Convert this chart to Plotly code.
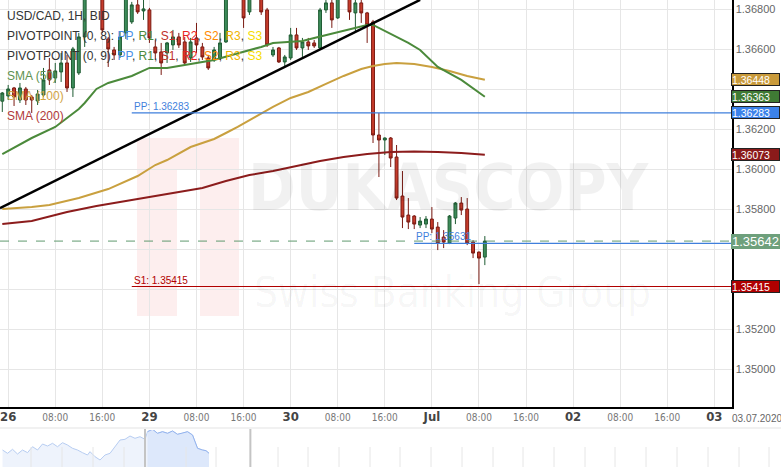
import plotly.graph_objects as go

W, H = 781, 467

# ---------------- data ----------------
# trading hours relative to Mon 29 Jun 2020 00:00 (weekend gap removed)
hours = list(range(-25, 58))
opens = [1.36341, 1.36367, 1.36407, 1.36347, 1.36402, 1.36362, 1.36342, 1.36372, 1.36497, 1.36457,
         1.36487, 1.36532, 1.36407, 1.36482, 1.36662, 1.36870, 1.36900, 1.36880, 1.36652, 1.36597,
         1.36572, 1.36682, 1.36737, 1.36822, 1.36792, 1.36797, 1.36612, 1.36587, 1.36582, 1.36622,
         1.36662, 1.36637, 1.36557, 1.36657, 1.36612, 1.36557, 1.36547, 1.36557, 1.36637, 1.36860,
         1.36890, 1.36870, 1.36787, 1.36860, 1.36870, 1.36797, 1.36572, 1.36607, 1.36537, 1.36557,
         1.36672, 1.36607, 1.36637, 1.36632, 1.36607, 1.36797, 1.36832, 1.36757, 1.36880, 1.36860,
         1.36782, 1.36832, 1.36782, 1.36737, 1.36172, 1.36147, 1.36157, 1.36062, 1.35867, 1.35772,
         1.35767, 1.35722, 1.35727, 1.35752, 1.35712, 1.35662, 1.35632, 1.35757, 1.35832, 1.35802,
         1.35637, 1.35587, 1.35562]
highs = [1.36387, 1.36422, 1.36412, 1.36432, 1.36412, 1.36372, 1.36397, 1.36507, 1.36557, 1.36532,
         1.36582, 1.36572, 1.36612, 1.36682, 1.36890, 1.36930, 1.36940, 1.36900, 1.36662, 1.36612,
         1.36687, 1.36880, 1.36837, 1.36847, 1.36850, 1.36807, 1.36647, 1.36632, 1.36637, 1.36697,
         1.36682, 1.36662, 1.36657, 1.36732, 1.36632, 1.36572, 1.36612, 1.36682, 1.36880, 1.36910,
         1.36920, 1.36890, 1.36880, 1.36900, 1.36890, 1.36807, 1.36612, 1.36612, 1.36572, 1.36707,
         1.36707, 1.36657, 1.36657, 1.36647, 1.36807, 1.36850, 1.36855, 1.36880, 1.36900, 1.36880,
         1.36860, 1.36855, 1.36787, 1.36747, 1.36282, 1.36160, 1.36162, 1.36122, 1.35992, 1.35857,
         1.35772, 1.35762, 1.35767, 1.35812, 1.35737, 1.35697, 1.35772, 1.35837, 1.35862, 1.35857,
         1.35647, 1.35590, 1.35667]
lows = [1.36287, 1.36347, 1.36317, 1.36332, 1.36322, 1.36282, 1.36322, 1.36362, 1.36422, 1.36432,
        1.36437, 1.36387, 1.36362, 1.36472, 1.36612, 1.36855, 1.36860, 1.36682, 1.36512, 1.36547,
        1.36557, 1.36652, 1.36727, 1.36777, 1.36747, 1.36632, 1.36547, 1.36472, 1.36532, 1.36597,
        1.36607, 1.36522, 1.36537, 1.36582, 1.36547, 1.36497, 1.36537, 1.36547, 1.36632, 1.36850,
        1.36855, 1.36707, 1.36772, 1.36850, 1.36772, 1.36612, 1.36562, 1.36532, 1.36512, 1.36547,
        1.36597, 1.36562, 1.36597, 1.36607, 1.36597, 1.36782, 1.36707, 1.36752, 1.36850, 1.36747,
        1.36687, 1.36732, 1.36632, 1.36132, 1.35962, 1.36072, 1.36012, 1.35847, 1.35707, 1.35702,
        1.35702, 1.35707, 1.35707, 1.35682, 1.35597, 1.35607, 1.35627, 1.35727, 1.35772, 1.35622,
        1.35557, 1.35427, 1.35522]
closes = [1.36382, 1.36402, 1.36362, 1.36407, 1.36347, 1.36347, 1.36377, 1.36447, 1.36447, 1.36492,
          1.36532, 1.36407, 1.36602, 1.36662, 1.36870, 1.36900, 1.36880, 1.36697, 1.36602, 1.36572,
          1.36662, 1.36860, 1.36822, 1.36787, 1.36802, 1.36657, 1.36582, 1.36532, 1.36632, 1.36662,
          1.36622, 1.36532, 1.36637, 1.36622, 1.36562, 1.36507, 1.36597, 1.36632, 1.36860, 1.36890,
          1.36870, 1.36757, 1.36860, 1.36880, 1.36787, 1.36622, 1.36597, 1.36537, 1.36562, 1.36672,
          1.36607, 1.36637, 1.36617, 1.36617, 1.36797, 1.36832, 1.36747, 1.36860, 1.36860, 1.36787,
          1.36832, 1.36782, 1.36722, 1.36172, 1.36147, 1.36157, 1.36057, 1.35857, 1.35762, 1.35737,
          1.35727, 1.35742, 1.35752, 1.35702, 1.35632, 1.35637, 1.35767, 1.35832, 1.35797, 1.35632,
          1.35582, 1.35557, 1.35642]

sma50_h = [-25, -20, -16, -12, -11, -9, -7, -3, 0, 3, 6, 11, 14, 19, 21, 26, 28, 32, 35, 37, 38, 39, 41, 44, 46, 49, 53, 57]
sma50_v = [1.36077, 1.36157, 1.36212, 1.36302, 1.36332, 1.36402, 1.36432, 1.36467, 1.36507, 1.36507,
           1.36522, 1.36547, 1.36572, 1.36612, 1.36632, 1.36642, 1.36657, 1.36687, 1.36707, 1.36722,
           1.36722, 1.36707, 1.36677, 1.36632, 1.36597, 1.36512, 1.36447, 1.36363]
sma100_h = [-25, -20, -17, -12, -7, -2, 1, 3, 7, 11, 13, 15, 18, 21, 24, 27, 30, 33, 36, 38, 40, 42, 45, 48, 51, 54, 57]
sma100_v = [1.35802, 1.35812, 1.35822, 1.35857, 1.35902, 1.35967, 1.36022, 1.36047, 1.36112, 1.36152,
            1.36182, 1.36212, 1.36262, 1.36312, 1.36357, 1.36387, 1.36427, 1.36467, 1.36502, 1.36517,
            1.36527, 1.36532, 1.36527, 1.36512, 1.36492, 1.36467, 1.36448]
sma200_h = [-25, -20, -14, -9, -5, 0, 4, 9, 13, 17, 21, 25, 29, 33, 37, 41, 45, 49, 53, 57]
sma200_v = [1.35727, 1.35742, 1.35787, 1.35817, 1.35837, 1.35862, 1.35882, 1.35907, 1.35942, 1.35972,
            1.35992, 1.36017, 1.36042, 1.36062, 1.36077, 1.36087, 1.36089, 1.36087, 1.36082, 1.36073]

trend_h = [-25.4, 46.0]
trend_v = [1.35807, 1.36847]

levels_name = ["PP", "S1", "PP"]
levels_value = [1.36283, 1.35415, 1.35631]
levels_start = [-3, -3, 45]
levels_color = ["#3f7fdc", "#b00000", "#3f7fdc"]

last_price = 1.35642

price_ticks = [1.350, 1.352, 1.354, 1.356, 1.358, 1.360, 1.362, 1.364, 1.366, 1.368]
price_labels = ["1.35000", "1.35200", "", "", "1.35800", "1.36000", "1.36200", "", "1.36600", "1.36800"]

tick_hours = [-24, -16, -8, 0, 8, 16, 24, 32, 40, 48, 56, 64, 72, 80, 88, 96]
tick_labels = ["26", "08:00", "16:00", "29", "08:00", "16:00", "30", "08:00", "16:00",
               "Jul", "08:00", "16:00", "02", "08:00", "16:00", "03"]

# navigator (longer history, trading hours)
nav_h = [-193.6, -187.7, -181.8, -175.9, -170.0, -164.1, -158.2, -152.3, -146.4, -140.5, -134.6, -128.7,
         -122.8, -116.9, -111.0, -105.1, -99.2, -93.3, -90.3, -84.4, -78.5, -72.6, -66.7, -60.8, -54.9,
         -49.0, -43.1, -37.2, -31.3, -25.4, -22.4, -16.5, -10.6, -4.7, 1.2, 7.1, 13.0, 18.9, 24.8, 30.7,
         36.6, 42.5, 46.6, 50.2]
nav_v = [1.35760, 1.35579, 1.35798, 1.35541, 1.35760, 1.35614, 1.35940, 1.35760, 1.36088, 1.35979,
         1.36127, 1.35940, 1.36160, 1.36034, 1.35853, 1.35760, 1.35614, 1.35486, 1.35667, 1.35393,
         1.35212, 1.35486, 1.35579, 1.35940, 1.36307, 1.36346, 1.36526, 1.36400, 1.36488, 1.36346,
         1.36762, 1.36893, 1.36674, 1.36762, 1.36674, 1.36800, 1.36619, 1.36674, 1.36762, 1.36581,
         1.35853, 1.35760, 1.35722, 1.35579]

# ---------------- layout helpers ----------------
PLOT_R = 732
PLOT_B = 407
x_range = [-25.39, 99.0]
y_range = [1.34813, 1.368465]


def px(x):
    return x / W


def py(y):
    return 1 - y / H


fig = go.Figure()

# SMA + trend lines
fig.add_trace(go.Scatter(x=sma200_h, y=sma200_v, mode="lines", line=dict(color="#8c1c1c", width=2), hoverinfo="skip"))
fig.add_trace(go.Scatter(x=sma100_h, y=sma100_v, mode="lines", line=dict(color="#c9a03f", width=2), hoverinfo="skip"))
fig.add_trace(go.Scatter(x=sma50_h, y=sma50_v, mode="lines", line=dict(color="#4b8a3b", width=2), hoverinfo="skip"))
fig.add_trace(go.Scatter(x=trend_h, y=trend_v, mode="lines", line=dict(color="#000000", width=2.5), hoverinfo="skip"))

# pivot levels
for name, val, start, col in zip(levels_name, levels_value, levels_start, levels_color):
    fig.add_trace(go.Scatter(x=[start, x_range[1]], y=[val, val], mode="lines",
                             line=dict(color=col, width=1.2), hoverinfo="skip"))
    fig.add_annotation(x=start, y=val, xref="x", yref="y", text=f"{name}: {val:.5f}",
                       showarrow=False, xanchor="left", yanchor="bottom", yshift=-1,
                       font=dict(size=10, color=col, family="Liberation Sans, Arial"))

# candles
fig.add_trace(go.Candlestick(
    x=hours, open=opens, high=highs, low=lows, close=closes,
    increasing=dict(fillcolor="#3d8c5a", line=dict(color="#1f5c33", width=1)),
    decreasing=dict(fillcolor="#c63b2b", line=dict(color="#7a1a12", width=1)),
    whiskerwidth=0, hoverinfo="skip"))

# navigator
nav_in = [i for i, h in enumerate(nav_h) if h >= x_range[0]]
fig.add_trace(go.Scatter(x=nav_h, y=nav_v, mode="lines", fill="tozeroy",
                         fillcolor="#eef3fc", line=dict(color="#b7cdf2", width=1),
                         xaxis="x2", yaxis="y2", hoverinfo="skip"))
fig.add_trace(go.Scatter(x=[nav_h[i] for i in nav_in], y=[nav_v[i] for i in nav_in], mode="lines",
                         fill="tozeroy", fillcolor="#dde8fb", line=dict(color="#93b3ee", width=1),
                         xaxis="x2", yaxis="y2", hoverinfo="skip"))

shapes = []
# watermark logo
shapes.append(dict(type="rect", xref="paper", yref="paper", x0=px(137), x1=px(239), y0=py(316), y1=py(138),
                   fillcolor="#fdeeee", line=dict(width=0), layer="below"))
shapes.append(dict(type="rect", xref="paper", yref="paper", x0=px(177), x1=px(200), y0=py(316), y1=py(170),
                   fillcolor="#ffffff", line=dict(width=0), layer="below"))
# current price dashed line
shapes.append(dict(type="line", xref="x domain", yref="y", x0=0, x1=1, y0=last_price, y1=last_price,
                   line=dict(color="#5f9a6e", width=1, dash="dash")))
# navigator decorations
shapes.append(dict(type="line", xref="paper", yref="paper", x0=0, x1=1, y0=py(428), y1=py(428),
                   line=dict(color="#e3e3e3", width=1)))
for gx in [31, 62, 93, 124, 186, 216, 278, 308, 339, 370, 400, 431, 462, 493, 523, 554, 585, 615, 646, 677, 708, 739, 769]:
    shapes.append(dict(type="line", xref="paper", yref="paper", x0=px(gx), x1=px(gx), y0=0, y1=py(447),
                       line=dict(color="#e6e6e6", width=1)))
for hx in x_range:
    shapes.append(dict(type="line", xref="x2", yref="paper", x0=hx, x1=hx, y0=0, y1=py(429),
                       line=dict(color="#c4c4c4", width=2)))
fig.update_layout(shapes=shapes)

# watermark text
fig.add_annotation(xref="paper", yref="paper", x=px(449), y=py(188), text="<b>DUKASCOPY</b>", showarrow=False,
                   font=dict(size=64, color="rgba(0,0,0,0.055)", family="Liberation Sans Narrow, DejaVu Sans Condensed, Arial Narrow"))
fig.add_annotation(xref="paper", yref="paper", x=px(452), y=py(292), text="Swiss Banking Group", showarrow=False,
                   font=dict(size=42, color="rgba(0,0,0,0.04)", family="Liberation Sans Narrow, DejaVu Sans Condensed, Arial Narrow"))

# legend texts
LF = "Liberation Sans, Arial"
leg = [
    ("USD/CAD, 1H, BID", "#333333", 15.5),
    ("PIVOTPOINT (0, 8): <span style='color:#4a8fe6'>PP</span>, <span style='color:#4b8a3b'>R1</span>, "
     "<span style='color:#c0302a'>S1</span>, <span style='color:#e8261e'>R2</span>, <span style='color:#ff8a00'>S2</span>, "
     "<span style='color:#f0b400'>R3</span>, <span style='color:#f5dc00'>S3</span>", "#333333", 35.5),
    ("PIVOTPOINT (0, 9): <span style='color:#4a8fe6'>PP</span>, <span style='color:#4b8a3b'>R1</span>, "
     "<span style='color:#c0302a'>S1</span>, <span style='color:#e8261e'>R2</span>, <span style='color:#ff8a00'>S2</span>, "
     "<span style='color:#f0b400'>R3</span>, <span style='color:#f5dc00'>S3</span>", "#333333", 55.5),
    ("SMA (50)", "#5e9250", 76),
    ("SMA (100)", "#d2a544", 96),
    ("SMA (200)", "#b03a3a", 116),
]
for txt, col, yy in leg:
    fig.add_annotation(xref="paper", yref="paper", x=px(5), y=py(yy), text=txt, showarrow=False,
                       xanchor="left", yanchor="middle", font=dict(size=12, color=col, family=LF))

# right axis value boxes
box_vals = [sma100_v[-1], sma50_v[-1], levels_value[0], sma200_v[-1], levels_value[1]]
box_cols = ["#c99a3a", "#3f7a34", "#3b82ea", "#8b1a1a", "#b00000"]
for v, c in zip(box_vals, box_cols):
    fig.add_annotation(xref="paper", yref="y", x=PLOT_R / W - 0.001, y=v, text=f"{v:.5f}", showarrow=False,
                       xanchor="left", yanchor="middle", bgcolor=c, bordercolor="#222222", borderwidth=1,
                       borderpad=0, width=47, height=11, align="left",
                       font=dict(size=10.5, color="#ffffff", family=LF))
fig.add_annotation(xref="paper", yref="y", x=PLOT_R / W - 0.001, y=last_price, text=f"{last_price:.5f}",
                   showarrow=False, xanchor="left", yanchor="middle", bgcolor="#6ea07c", borderwidth=0,
                   borderpad=0, width=49, height=15, align="center",
                   font=dict(size=13, color="#ffffff", family=LF))
fig.add_annotation(xref="paper", yref="paper", x=px(757), y=py(418), text="03.07.2020", showarrow=False,
                   xanchor="center", yanchor="middle", font=dict(size=10, color="#666666", family=LF))

ticktext = []
for t in tick_labels:
    if ":" in t:
        ticktext.append(t)
    else:
        ticktext.append(f"<span style='font-size:13px;color:#444444'><b>{t}</b></span>")

fig.update_layout(
    width=W, height=H, margin=dict(l=0, r=0, t=0, b=0),
    paper_bgcolor="white", plot_bgcolor="white", showlegend=False,
    xaxis=dict(domain=[0, PLOT_R / W], range=x_range, tickvals=tick_hours, ticktext=ticktext,
               showgrid=True, gridcolor="#e6e6e6", gridwidth=1, zeroline=False,
               showline=True, linecolor="#000000", linewidth=1.5, ticks="",
               tickfont=dict(size=10, color="#777777", family="Liberation Sans Narrow, DejaVu Sans Condensed, Arial"),
               rangeslider=dict(visible=False), anchor="y", fixedrange=True),
    yaxis=dict(domain=[1 - PLOT_B / H, 1], range=y_range, side="right", anchor="x",
               tickvals=price_ticks, ticktext=price_labels, showgrid=True, gridcolor="#e6e6e6",
               zeroline=False, showline=True, linecolor="#000000", linewidth=1.5, ticks="",
               tickfont=dict(size=11, color="#666666", family=LF), fixedrange=True),
    xaxis2=dict(domain=[0, 1], range=[-196.6, 725.5], visible=False, anchor="y2", fixedrange=True),
    yaxis2=dict(domain=[0, 37 / H], range=[1.34829, 1.36855], visible=False, anchor="x2", fixedrange=True),
)

fig.write_html("out.html", config={"displayModeBar": False, "staticPlot": True},
               post_script="document.body.style.margin='0px';document.body.style.overflow='hidden';")
